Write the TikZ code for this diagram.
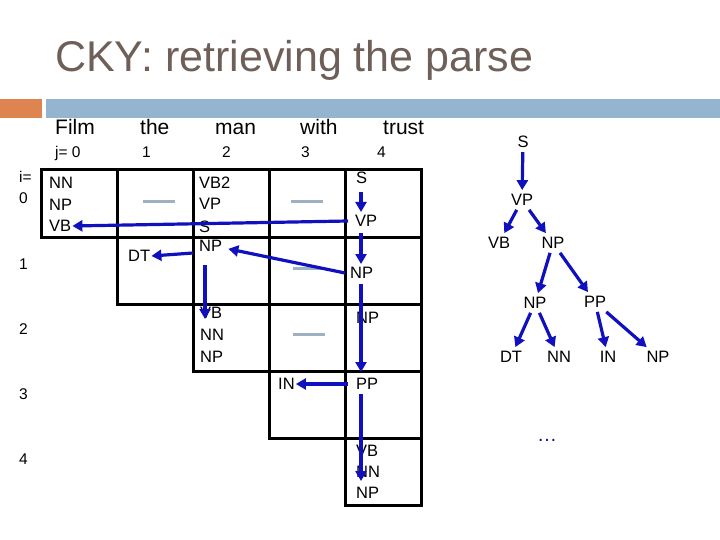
\documentclass[tikz,border=0pt]{standalone}
\usepackage{fontspec}
\setmainfont{Liberation Sans}
\usepackage{tikz}
\usetikzlibrary{arrows.meta}
\definecolor{slidebrown}{RGB}{110,96,88}
\definecolor{barorange}{RGB}{222,132,80}
\definecolor{barblue}{RGB}{148,180,208}
\definecolor{arrowblue}{RGB}{16,16,190}
\definecolor{dashgray}{RGB}{158,176,194}
\definecolor{dotnavy}{RGB}{20,20,120}
\tikzset{
  cellentry/.style={anchor=west,inner sep=1pt,font=\fontsize{16.5}{18}\selectfont},
  treeentry/.style={inner sep=4pt,font=\fontsize{16.5}{18}\selectfont},
  gapdash/.style={dashgray,line width=3pt},
  parsearrow/.style={arrowblue,line width=3.2pt,-{Triangle[length=10pt,width=11pt]}},
}

\begin{document}
\begin{tikzpicture}[x=1pt,y=-1pt]
    \useasboundingbox (0,0) rectangle (720,540);
    % title and bars
    \node[anchor=base west,inner sep=0,slidebrown,font=\fontsize{43}{46}\selectfont] (title) at (55,72) {CKY: retrieving the parse};
    \fill[barorange] (0,99) rectangle (42,118);
    \fill[barblue] (46,99) rectangle (720,118);
    % words and indices
    \begin{scope}[every node/.style={anchor=base west,inner sep=0,font=\fontsize{21}{24}\selectfont}]
    \node (wfilm) at (55,135) {Film}; \node (wthe) at (140,135) {the};
    \node (wman) at (215,135) {man}; \node (wwith) at (300,135) {with};
    \node (wtrust) at (383,135) {trust};
    \end{scope}
    \begin{scope}[every node/.style={anchor=base west,inner sep=0,font=\fontsize{15.5}{18}\selectfont}]
    \node (j0) at (55,158) {j= 0}; \node (j1) at (142,158) {1};
    \node (j2) at (222,158) {2}; \node (j3) at (301,158) {3};
    \node (j4) at (377,158) {4};
    \end{scope}
    \begin{scope}[every node/.style={anchor=west,inner sep=0,font=\fontsize{15.5}{18}\selectfont}]
    \node (ilab) at (19,177) {i=}; \node (i0) at (19,198) {0};
    \node (i1) at (19,264) {1}; \node (i2) at (19,329) {2};
    \node (i3) at (19,394) {3}; \node (i4) at (19,459) {4};
    \end{scope}
    % chart cells
    \foreach \i in {0,...,4}
      \foreach \j in {\i,...,4}
        \draw[line width=3pt] (41+76*\j,170+67*\i) rectangle (117+76*\j,237+67*\i);
    \draw[gapdash] (143,202) -- (175,202);
    \draw[gapdash] (291,202) -- (323,202);
    \draw[gapdash] (293,268) -- (323,268);
    \draw[gapdash] (293,334) -- (325,334);
    % cell contents
    \node[cellentry] (c00a) at (48,183) {NN};
    \node[cellentry] (c00b) at (48,205) {NP};
    \node[cellentry] (c00c) at (48,226) {VB};
    \node[cellentry] (c02a) at (198,183) {VB2};
    \node[cellentry] (c02b) at (198,204) {VP};
    \node[cellentry] (c02c) at (198,227) {S};
    \node[cellentry] (c04a) at (355,178) {S};
    \node[cellentry] (c04b) at (354,221) {VP};
    \node[cellentry] (c11) at (127,256) {DT};
    \node[cellentry] (c12) at (198,246) {NP};
    \node[cellentry] (c14) at (349,273) {NP};
    \node[cellentry] (c22a) at (199,313) {VB};
    \node[cellentry] (c22b) at (199,335) {NN};
    \node[cellentry] (c22c) at (199,357) {NP};
    \node[cellentry] (c24) at (355,318) {NP};
    \node[cellentry] (c33) at (277,384) {IN};
    \node[cellentry] (c34) at (355,384) {PP};
    \node[cellentry] (c44a) at (355,451) {VB};
    \node[cellentry] (c44b) at (355,472) {NN};
    \node[cellentry] (c44c) at (355,493) {NP};
    % back pointers
    \draw[parsearrow] ([xshift=-6pt]c04b.west) -- (c00c.east);
    \draw[parsearrow] (361,192) -- (361,212);
    \draw[parsearrow] (361,233) -- (361,264);
    \draw[parsearrow] ([xshift=-4pt]c14.west) -- ([shift={(5,-4)}]c12.south east);
    \draw[parsearrow] (193,253) -- (c11.east);
    \draw[parsearrow] (205,265) -- (205,319);
    \draw[parsearrow] (361,284) -- (361,372);
    \draw[parsearrow] ([xshift=-7pt]c34.west) -- (c33.east);
    \draw[parsearrow] (361,394) -- (361,481);
    % parse tree
    \node[treeentry] (ts) at (523,142) {S};
    \node[treeentry] (tvp) at (522,200) {VP};
    \node[treeentry] (tvb) at (499,243) {VB};
    \node[treeentry] (tnp) at (553,243) {NP};
    \node[treeentry] (tnpa) at (535,303) {NP};
    \node[treeentry] (tpp) at (595,302) {PP};
    \node[treeentry] (tdt) at (511,357) {DT};
    \node[treeentry] (tnn) at (559,357) {NN};
    \node[treeentry] (tin) at (608,357) {IN};
    \node[treeentry] (tnpb) at (658,357) {NP};
    \draw[parsearrow] (ts) -- (tvp);
    \draw[parsearrow] (tvp) -- (tvb);
    \draw[parsearrow] (tvp) -- (tnp);
    \draw[parsearrow] (tnp) -- (tnpa);
    \draw[parsearrow] (tnp) -- (tpp);
    \draw[parsearrow] (tnpa) -- (tdt);
    \draw[parsearrow] (tnpa) -- (tnn);
    \draw[parsearrow] (tpp) -- (tin);
    \draw[parsearrow] (tpp) -- (tnpb);
    \node[dotnavy,font=\fontsize{20}{22}\selectfont] (tdots) at (547,440) {\dots};
\end{tikzpicture}
\end{document}
